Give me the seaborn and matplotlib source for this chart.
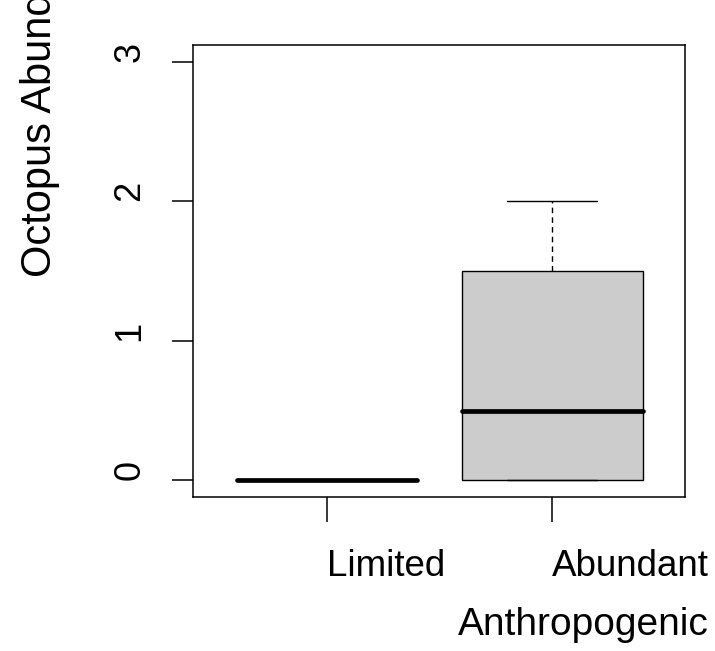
import matplotlib
matplotlib.use("Agg")
import matplotlib.pyplot as plt
import seaborn as sns
import pandas as pd

# values: each group given as its five-number summary
# (min, lower hinge, median, upper hinge, max)
groups = ["Limited", "Abundant"]
limited_values = [0, 0, 0, 0, 0]
abundant_values = [0, 0, 0.5, 1.5, 2]
y_ticks = [0, 1, 2, 3]

df = pd.DataFrame({
    "Anthropogenic": ["Limited"] * len(limited_values) + ["Abundant"] * len(abundant_values),
    "Octopus Abundance": limited_values + abundant_values,
})

sns.set_theme(style="ticks")
plt.rcParams["font.family"] = ["Liberation Sans", "DejaVu Sans"]
plt.rcParams["text.color"] = "black"
plt.rcParams["axes.edgecolor"] = "black"
plt.rcParams["axes.linewidth"] = 1.1
plt.rcParams["xtick.color"] = "black"
plt.rcParams["ytick.color"] = "black"
plt.rcParams["xtick.major.width"] = 1.1
plt.rcParams["ytick.major.width"] = 1.1

W, H = 715, 651
fig = plt.figure(figsize=(W / 100, H / 100), dpi=100)
# plotting region in pixels: x 193..685, y 45..497
ax = fig.add_axes([193 / W, 1 - 497 / H, (685 - 193) / W, (497 - 45) / H])

sns.boxplot(
    data=df, x="Anthropogenic", y="Octopus Abundance", order=groups, ax=ax,
    width=0.8, color="#cccccc", saturation=1, linecolor="black", linewidth=1.0,
    showfliers=False,
    whiskerprops=dict(linestyle=(0, (4, 3))),
    medianprops=dict(linewidth=3.4, solid_capstyle="round"),
)

ax.set_xlim(-0.593, 1.588)
ax.set_ylim(-0.12, 3.12)
ax.set_yticks(y_ticks)
ax.set_yticklabels([str(t) for t in y_ticks], rotation=90, va="bottom")
ax.set_xticks(range(len(groups)))
ax.set_xticklabels(groups, ha="left")
ax.tick_params(axis="x", length=18, pad=19.5, labelsize=26.5)
ax.tick_params(axis="y", length=15, pad=18, labelsize=26)
ax.set_xlabel("")
ax.set_ylabel("")

fig.text(458 / W, 1 - 635 / H, "Anthropogenic", ha="left", va="baseline", fontsize=28)
fig.text(51 / W, 1 - 277 / H, "Octopus Abundance", rotation=90, rotation_mode="anchor",
         ha="left", va="baseline", fontsize=30)

fig.savefig("out.png", dpi=100)
